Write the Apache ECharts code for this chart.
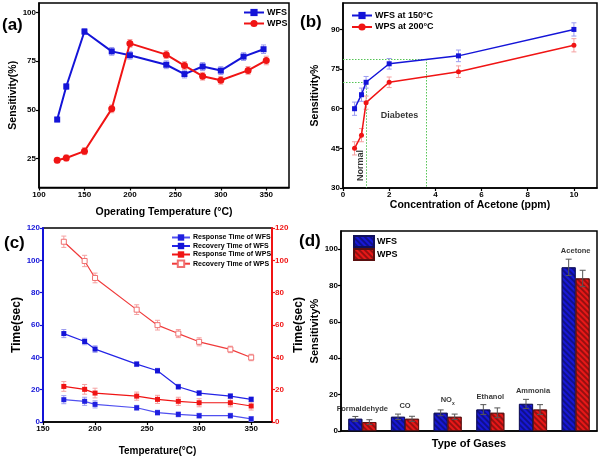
<!DOCTYPE html>
<html><head><meta charset="utf-8">
<script src="https://cdn.jsdelivr.net/npm/echarts@6/dist/echarts.min.js"></script>
<style>html,body{margin:0;padding:0;background:#fff}#c{width:600px;height:460px}</style>
</head><body><div id="c"></div>
<script>
// ---------- DATA ----------
// (a)
const aWfsTemp = [120,130,150,180,200,240,260,280,300,325,347];
const aWfsSens = [45,62,90.3,80.1,78.1,73.2,68.4,72.3,70.2,77.4,81.2];
const aWfsErr  = [1.2,1.5,1.5,2,2,2,2,2,2,2,2.2];
const aWpsTemp = [120,130,150,180,200,240,260,280,300,330,350];
const aWpsSens = [24,25.2,28.7,50.5,84.2,78.4,72.8,67.3,65.2,70.3,75.4];
const aWpsErr  = [1.2,1.5,1.8,2,2,2,2,2,2,2,2.2];
const aSensTicks = [25,50,75,100];
// (b)
const bConc    = [0.5,0.8,1,2,5,10];
const bWfs     = [60,65.3,70,77,80,90];
const bWfsErr  = [2.5,2.5,2.2,2,2.2,2.5];
const bWps     = [45,50,62.3,70,74,84];
const bWpsErr  = [2.5,2.5,2.5,2,2.2,2.5];
const bNormalConc = 1.0, bNormalSens = 70;
const bDiabConc = 3.6, bDiabSens = 78.8;
// (c)
const cTemp       = [170,190,200,240,260,280,300,330,350];
const cRespWfs    = [13.8,12.8,10.9,8.8,5.8,4.7,3.9,3.9,1.9];
const cRecWfs     = [54.7,49.8,45.1,35.8,31.7,21.8,17.9,16,14];
const cRespWps    = [22,20.2,17.9,16,14,12.8,11.9,11.9,9.9];
const cRecWps     = [111.5,99.6,89.1,69.5,59.9,54.7,49.6,44.9,39.9];
const cRespWfsErr = [2.5,2.5,2.2,1.5,1.5,1.5,1.5,1.5,1.5];
const cRecWfsErr  = [2.5,2,2,1.5,1.5,1.5,1.5,1.5,1.5];
const cRespWpsErr = [3,3,3,2.5,2.5,2.5,2.5,2.5,2.5];
const cRecWpsErr  = [3.5,3.5,3,3,3,2.5,2.5,2,2];
// (d)
const dGases  = ['Formaldehyde','CO','NOx','Ethanol','Ammonia','Acetone'];
const dWfs    = [6.7,7.8,10,11.8,14.9,90];
const dWfsErr = [1.3,1.5,1.6,2.7,2.5,4.5];
const dWps    = [4.9,6.7,7.8,10,11.8,83.9];
const dWpsErr = [1.3,1.4,1.5,2.7,2.7,4.5];

// ---------- STYLE ----------
const FONT = '"Liberation Sans", Arial, sans-serif';
const BLUE = '#1414d8', RED = '#f01414';
const LBLUE = '#9c9cf0', LRED = '#f5a0a0';
const tickLbl = (c, showMax) => ({color: c || '#000', fontSize: 8, fontWeight: 'bold', fontFamily: FONT, margin: 3, showMaxLabel: !!showMax});
const axLine = (c, w) => ({show: true, lineStyle: {color: c || '#000', width: w || 1.5}});
const axTick = (c) => ({show: true, length: 3, lineStyle: {color: c || '#000', width: 1.2}});
const nameStyle = (s) => ({fontSize: s, fontWeight: 'bold', fontFamily: FONT, color: '#000'});
const legTxt = (s) => ({fontSize: s, fontWeight: 'bold', fontFamily: FONT, color: '#000', padding: [0, 0, 0, -2]});

const pairs = (xs, ys, es) => xs.map((x, i) => es ? [x, ys[i], es[i]] : [x, ys[i]]);

function errSeries(xi, yi, data, color, z, capHalf, offset) {
  return {
    type: 'custom', xAxisIndex: xi, yAxisIndex: yi, z: z || 1, silent: true,
    data: data, legendHoverLink: false,
    renderItem: function (params, api) {
      const x = api.value(0), y = api.value(1), e = api.value(2);
      const t = api.coord([x, y + e]), b = api.coord([x, y - e]);
      const dx = offset || 0, h = capHalf || 3;
      const st = {stroke: color, lineWidth: 1};
      return {type: 'group', children: [
        {type: 'line', shape: {x1: t[0]+dx, y1: t[1], x2: b[0]+dx, y2: b[1]}, style: st},
        {type: 'line', shape: {x1: t[0]+dx-h, y1: t[1], x2: t[0]+dx+h, y2: t[1]}, style: st},
        {type: 'line', shape: {x1: b[0]+dx-h, y1: b[1], x2: b[0]+dx+h, y2: b[1]}, style: st}
      ]};
    }
  };
}

const hatch = {symbol: 'rect', dashArrayX: [1, 0], dashArrayY: [1.2, 1.8], rotation: Math.PI / 4, color: 'rgba(0,0,0,0.35)'};

const option = {
  animation: false,
  backgroundColor: '#fff',
  textStyle: {fontFamily: FONT},
  graphic: [
    {type: 'text', left: 2, top: 17, style: {text: '(a)', font: 'bold 17px ' + FONT, fill: '#000'}},
    {type: 'text', left: 300, top: 14, style: {text: '(b)', font: 'bold 17px ' + FONT, fill: '#000'}},
    {type: 'text', left: 4, top: 235, style: {text: '(c)', font: 'bold 17px ' + FONT, fill: '#000'}},
    {type: 'text', left: 299, top: 233, style: {text: '(d)', font: 'bold 17px ' + FONT, fill: '#000'}}
  ],
  grid: [
    {left: 39, top: 3, width: 250, height: 184.5, show: true, borderColor: '#000', borderWidth: 1.5},
    {left: 343, top: 3, width: 254, height: 185, show: true, borderColor: '#000', borderWidth: 1.5},
    {left: 43, top: 228, width: 229, height: 194, show: true, borderColor: '#000', borderWidth: 1.5},
    {left: 341, top: 231, width: 256, height: 200, show: true, borderColor: '#000', borderWidth: 1.5}
  ],
  xAxis: [
    {gridIndex: 0, type: 'value', min: 100, max: 375, interval: 50, splitLine: {show: false},
     axisLine: axLine(), axisTick: axTick(), axisLabel: tickLbl(),
     name: 'Operating Temperature (°C)', nameLocation: 'middle', nameGap: 19, nameTextStyle: nameStyle(10.5)},
    {gridIndex: 1, type: 'value', min: 0, max: 11, interval: 2, splitLine: {show: false},
     axisLine: axLine(), axisTick: axTick(), axisLabel: tickLbl(),
     name: 'Concentration of Acetone (ppm)', nameLocation: 'middle', nameGap: 12, nameTextStyle: nameStyle(10.5)},
    {gridIndex: 2, type: 'value', min: 150, max: 370, interval: 50, splitLine: {show: false},
     axisLine: axLine(), axisTick: axTick(), axisLabel: tickLbl(),
     name: 'Temperature(°C)', nameLocation: 'middle', nameGap: 24, nameTextStyle: nameStyle(10)},
    {gridIndex: 3, type: 'category', data: dGases, splitLine: {show: false},
     axisLine: axLine(), axisTick: {show: false}, axisLabel: {show: false},
     name: 'Type of Gases', nameLocation: 'middle', nameGap: 7, nameTextStyle: nameStyle(11)}
  ],
  yAxis: [
    {gridIndex: 0, type: 'value', min: 10, max: 105, splitLine: {show: false},
     axisLine: axLine(), axisTick: Object.assign(axTick(), {customValues: aSensTicks}),
     axisLabel: Object.assign(tickLbl('#000', true), {customValues: aSensTicks}),
     name: 'Sensitivity(%)', nameLocation: 'middle', nameGap: 20, nameRotate: 90, nameTextStyle: nameStyle(10.5)},
    {gridIndex: 1, type: 'value', min: 30, max: 100, interval: 15, splitLine: {show: false},
     axisLine: axLine(), axisTick: axTick(), axisLabel: tickLbl(),
     name: 'Sensitivity%', nameLocation: 'middle', nameGap: 22, nameRotate: 90, nameTextStyle: nameStyle(10.5)},
    {gridIndex: 2, type: 'value', position: 'left', min: 0, max: 120, interval: 20, splitLine: {show: false},
     axisLine: axLine(BLUE, 2), axisTick: axTick(BLUE), axisLabel: tickLbl(BLUE, true),
     name: 'Time(sec)', nameLocation: 'middle', nameGap: 20, nameRotate: 90, nameTextStyle: nameStyle(12)},
    {gridIndex: 2, type: 'value', position: 'right', min: 0, max: 120, interval: 20, splitLine: {show: false},
     axisLine: axLine(RED, 2), axisTick: axTick(RED), axisLabel: tickLbl(RED, true),
     name: 'Time(sec)', nameLocation: 'middle', nameGap: 21, nameRotate: 90, nameTextStyle: nameStyle(12)},
    {gridIndex: 3, type: 'value', min: 0, max: 110, interval: 20, splitLine: {show: false},
     axisLine: axLine(), axisTick: axTick(), axisLabel: tickLbl(),
     name: 'Sensitivity%', nameLocation: 'middle', nameGap: 20, nameRotate: 90, nameTextStyle: nameStyle(11)}
  ],
  legend: [
    {data: ['WFS', 'WPS'], left: 238, top: 3, orient: 'vertical', itemWidth: 20, itemHeight: 9, itemGap: 2,
     textStyle: legTxt(9)},
    {data: ['WFS at 150°C', 'WPS at 200°C'], left: 346, top: 6, orient: 'vertical', itemWidth: 20, itemHeight: 9, itemGap: 2.5,
     textStyle: legTxt(9)},
    {data: ['Response Time of WFS', 'Recovery Time of WFS', 'Response Time of WPS', 'Recovery Time of WPS'],
     left: 166, top: 229, orient: 'vertical', itemWidth: 18, itemHeight: 8, itemGap: 1.5,
     textStyle: legTxt(7)},
    {data: ['WFS-d', 'WPS-d'], left: 348, top: 230, orient: 'vertical', itemWidth: 20, itemHeight: 11, itemGap: 0, icon: 'rect',
     formatter: (n) => n.replace('-d', ''),
     textStyle: legTxt(9)}
  ],
  series: [
    // (a)
    errSeries(0, 0, pairs(aWfsTemp, aWfsSens, aWfsErr), LBLUE, 1, 2.5),
    errSeries(0, 0, pairs(aWpsTemp, aWpsSens, aWpsErr), LRED, 1, 2.5),
    {name: 'WFS', type: 'line', xAxisIndex: 0, yAxisIndex: 0, z: 3, data: pairs(aWfsTemp, aWfsSens),
     symbol: 'rect', symbolSize: 6, color: BLUE, lineStyle: {width: 2}, itemStyle: {color: BLUE}},
    {name: 'WPS', type: 'line', xAxisIndex: 0, yAxisIndex: 0, z: 3, data: pairs(aWpsTemp, aWpsSens),
     symbol: 'circle', symbolSize: 7, color: RED, lineStyle: {width: 2}, itemStyle: {color: RED}},
    // (b)
    errSeries(1, 1, pairs(bConc, bWfs, bWfsErr), LBLUE, 1, 2.5),
    errSeries(1, 1, pairs(bConc, bWps, bWpsErr), LRED, 1, 2.5),
    {name: 'WFS at 150°C', type: 'line', xAxisIndex: 1, yAxisIndex: 1, z: 3, data: pairs(bConc, bWfs),
     symbol: 'rect', symbolSize: 5, color: BLUE, lineStyle: {width: 1.5}, itemStyle: {color: BLUE},
     markLine: {silent: true, symbol: 'none', label: {show: false}, z: 1,
       lineStyle: {color: '#55c455', type: [1.5, 1.5], width: 1},
       emphasis: {disabled: true},
       data: [
         [{coord: [0, bDiabSens]}, {coord: [bDiabConc, bDiabSens]}],
         [{coord: [bDiabConc, bDiabSens]}, {coord: [bDiabConc, 30]}],
         [{coord: [0, bNormalSens]}, {coord: [bNormalConc, bNormalSens]}],
         [{coord: [bNormalConc, bNormalSens]}, {coord: [bNormalConc, 30]}]
       ]}},
    {name: 'WPS at 200°C', type: 'line', xAxisIndex: 1, yAxisIndex: 1, z: 3, data: pairs(bConc, bWps),
     symbol: 'circle', symbolSize: 5, color: RED, lineStyle: {width: 1.5}, itemStyle: {color: RED}},
    {type: 'scatter', xAxisIndex: 1, yAxisIndex: 1, symbolSize: 0, silent: true,
     data: [{value: [0.75, 38.5], label: {formatter: 'Normal', rotate: 90}},
            {value: [2.45, 57.5], label: {formatter: 'Diabetes'}}],
     label: {show: true, position: 'inside', fontSize: 9, fontWeight: 'bold', fontFamily: FONT, color: '#000'}},
    // (c)
    errSeries(2, 2, pairs(cTemp, cRespWfs, cRespWfsErr), LBLUE, 1, 2.5),
    errSeries(2, 2, pairs(cTemp, cRecWfs, cRecWfsErr), LBLUE, 1, 2.5),
    errSeries(2, 3, pairs(cTemp, cRespWps, cRespWpsErr), LRED, 1, 2.5),
    errSeries(2, 3, pairs(cTemp, cRecWps, cRecWpsErr), LRED, 1, 2.5),
    {name: 'Response Time of WFS', type: 'line', xAxisIndex: 2, yAxisIndex: 2, z: 3, data: pairs(cTemp, cRespWfs),
     symbol: 'rect', symbolSize: 5, color: '#3a3af0', lineStyle: {width: 1.2, color: '#5050f0'}, itemStyle: {color: '#2020e0'}},
    {name: 'Recovery Time of WFS', type: 'line', xAxisIndex: 2, yAxisIndex: 2, z: 3, data: pairs(cTemp, cRecWfs),
     symbol: 'rect', symbolSize: 5, color: BLUE, lineStyle: {width: 1.2, color: '#2424e6'}, itemStyle: {color: '#1414d8'}},
    {name: 'Response Time of WPS', type: 'line', xAxisIndex: 2, yAxisIndex: 3, z: 3, data: pairs(cTemp, cRespWps),
     symbol: 'rect', symbolSize: 5, color: RED, lineStyle: {width: 1.2, color: RED}, itemStyle: {color: RED}},
    {name: 'Recovery Time of WPS', type: 'line', xAxisIndex: 2, yAxisIndex: 3, z: 3, data: pairs(cTemp, cRecWps),
     symbol: 'rect', symbolSize: 5, color: '#f04040', lineStyle: {width: 1.2, color: '#f03a3a'},
     itemStyle: {color: '#fff', borderColor: '#f07070', borderWidth: 1}},
    // (d)
    {name: 'WFS-d', type: 'bar', xAxisIndex: 3, yAxisIndex: 4, data: dWfs, barWidth: 14, barGap: '0%',
     itemStyle: {color: '#1818d6', borderColor: '#10105a', borderWidth: 0.8, decal: hatch}},
    {name: 'WPS-d', type: 'bar', xAxisIndex: 3, yAxisIndex: 4, data: dWps, barWidth: 14, barGap: '0%',
     itemStyle: {color: '#e81818', borderColor: '#5a1010', borderWidth: 0.8, decal: hatch}},
    errSeries(3, 4, dGases.map((g, i) => [i, dWfs[i], dWfsErr[i]]), '#555', 5, 3, -7),
    errSeries(3, 4, dGases.map((g, i) => [i, dWps[i], dWpsErr[i]]), '#555', 5, 3, 7),
    {type: 'scatter', xAxisIndex: 3, yAxisIndex: 4, symbolSize: 0, silent: true, z: 6,
     data: dGases.map((g, i) => ({value: [i, dWfs[i] + dWfsErr[i]], name: g})),
     label: {show: true, position: 'top', distance: 4, fontSize: 7.5, fontWeight: 'bold', fontFamily: FONT, color: '#000',
       formatter: (p) => p.name === 'NOx' ? '{a|NO}{b|x}' : p.name,
       rich: {a: {fontSize: 7.5, fontWeight: 'bold', fontFamily: FONT}, b: {fontSize: 5, fontWeight: 'bold', fontFamily: FONT, padding: [6, 0, 0, 0]}}}}
  ]
};

const chart = echarts.init(document.getElementById('c'), null, {renderer: 'canvas'});
chart.setOption(option);
</script></body></html>
